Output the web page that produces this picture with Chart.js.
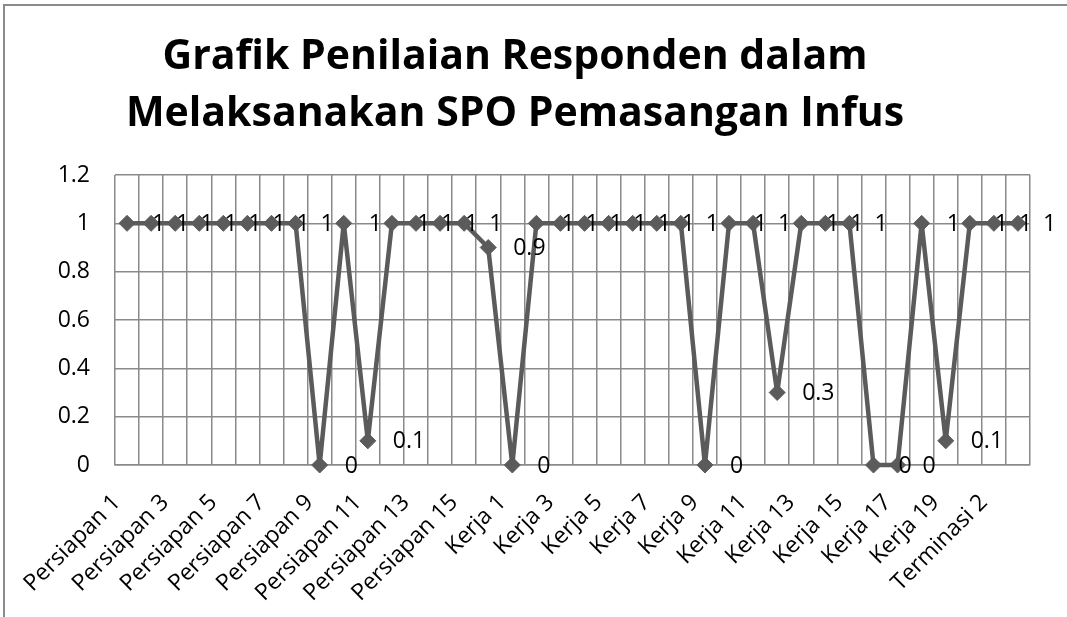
<!DOCTYPE html>
<html>
<head>
<meta charset="utf-8">
<script src="https://cdn.jsdelivr.net/npm/chart.js@4/dist/chart.umd.min.js"></script>
<style>
  html, body { margin: 0; padding: 0; background: #fff; overflow: hidden; }
  #wrap { position: relative; width: 1067px; height: 617px; }
  #frame { position: absolute; left: 3px; top: 4px; width: 1100px; height: 700px;
           border-left: 2px solid #8a8a8a; border-top: 2px solid #8a8a8a; }
  canvas { position: absolute; left: 0; top: 0; }
</style>
</head>
<body>
<div id="wrap">
  <div id="frame"></div>
  <canvas id="chart" width="1067" height="617"></canvas>
</div>
<script>
// categories (38 langkah SPO)
const categories = [
  'Persiapan 1', 'Persiapan 2', 'Persiapan 3', 'Persiapan 4', 'Persiapan 5', 'Persiapan 6',
  'Persiapan 7', 'Persiapan 8', 'Persiapan 9', 'Persiapan 10', 'Persiapan 11', 'Persiapan 12',
  'Persiapan 13', 'Persiapan 14', 'Persiapan 15', 'Persiapan 16',
  'Kerja 1', 'Kerja 2', 'Kerja 3', 'Kerja 4', 'Kerja 5', 'Kerja 6', 'Kerja 7', 'Kerja 8',
  'Kerja 9', 'Kerja 10', 'Kerja 11', 'Kerja 12', 'Kerja 13', 'Kerja 14', 'Kerja 15', 'Kerja 16',
  'Kerja 17', 'Kerja 18', 'Kerja 19',
  'Terminasi 1', 'Terminasi 2', 'Terminasi 3'
];

// nilai per langkah
const values = [
  1, 1, 1, 1, 1, 1, 1, 1, 0, 1, 0.1, 1, 1, 1, 1, 0.9,
  0, 1, 1, 1, 1, 1, 1, 1, 0, 1, 1, 0.3, 1, 1, 1, 0, 0, 1, 0.1,
  1, 1, 1
];

const yTicks = [0, 0.2, 0.4, 0.6, 0.8, 1, 1.2];

const FONT = "'Open Sans', sans-serif";
const GRID = '#8a8a8a';
const LINE = '#5b5b5b';

// data labels to the right of each point
const pointLabels = {
  id: 'pointLabels',
  afterDatasetsDraw(chart) {
    const ctx = chart.ctx;
    const meta = chart.getDatasetMeta(0);
    ctx.save();
    ctx.font = '23px ' + FONT;
    ctx.fillStyle = '#000';
    ctx.textAlign = 'left';
    ctx.textBaseline = 'middle';
    meta.data.forEach((pt, i) => {
      ctx.fillText(String(values[i]), pt.x + 25, pt.y + 1);
    });
    ctx.restore();
  }
};

new Chart(document.getElementById('chart').getContext('2d'), {
  type: 'line',
  data: {
    labels: categories,
    datasets: [{
      data: values,
      borderColor: LINE,
      backgroundColor: LINE,
      borderWidth: 4.5,
      borderJoinStyle: 'round',
      borderCapStyle: 'round',
      pointStyle: 'rectRot',
      pointRadius: 8,
      pointBorderWidth: 1,
      pointBackgroundColor: LINE,
      pointBorderColor: LINE,
      tension: 0,
      clip: false
    }]
  },
  options: {
    responsive: false,
    animation: false,
    layout: { padding: { left: 0, right: 37, top: 0, bottom: 0 } },
    plugins: {
      legend: { display: false },
      tooltip: { enabled: false },
      title: {
        display: true,
        text: ['Grafik Penilaian Responden dalam', 'Melaksanakan SPO Pemasangan Infus'],
        color: '#000',
        font: { family: FONT, size: 41, weight: 'bold', lineHeight: 57 / 41 },
        padding: { top: 29, bottom: 32 }
      }
    },
    scales: {
      x: {
        offset: true,
        grid: { offset: true, color: GRID, lineWidth: 1.5, drawTicks: false },
        border: { color: GRID, width: 1.5 },
        ticks: {
          autoSkip: false,
          minRotation: 45,
          maxRotation: 45,
          padding: 24,
          labelOffset: -10,
          color: '#000',
          font: { family: FONT, size: 23 },
          callback: (v, i) => (i % 2 === 0 ? categories[i] : '')
        },
        afterFit: s => { s.height = 152; }
      },
      y: {
        min: 0,
        max: 1.2,
        afterBuildTicks: s => { s.ticks = yTicks.map(v => ({ value: v })); },
        grid: { color: GRID, lineWidth: 1.5, drawTicks: false },
        border: { display: false },
        ticks: {
          padding: 25,
          color: '#000',
          font: { family: FONT, size: 23 },
          callback: v => String(v)
        },
        afterFit: s => { s.width = 115; }
      }
    }
  },
  plugins: [pointLabels]
});
</script>
</body>
</html>
